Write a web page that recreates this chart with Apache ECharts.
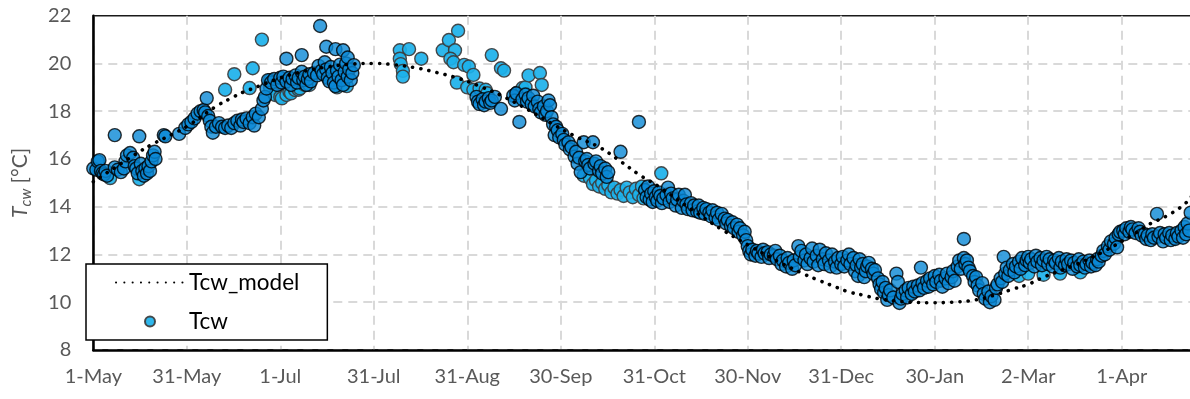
<!DOCTYPE html>
<html>
<head>
<meta charset="utf-8">
<title>Tcw</title>
<script src="https://cdn.jsdelivr.net/npm/echarts@6/dist/echarts.min.js"></script>
<style>
  html, body { margin: 0; padding: 0; background: #fff; }
  #chart { width: 1190px; height: 399px; }
</style>
</head>
<body>
<div id="chart"></div>
<script>
// x values are days counted from 1-May; ticks every 30.5 days
const tickLabels = ['1-May', '31-May', '1-Jul', '31-Jul', '31-Aug', '30-Sep',
  '31-Oct', '30-Nov', '31-Dec', '30-Jan', '2-Mar', '1-Apr'];

// Tcw_model curve, sampled [day, °C]
const modelDays = [0, 15, 19, 26, 31, 40, 45, 49, 54, 60, 68, 76, 84, 92, 98, 106, 112, 119, 126,
  134, 142, 150, 158, 165, 172, 178, 185, 195, 205, 215, 225, 231, 236, 241, 246, 251, 256, 262,
  267, 273, 280, 288, 294, 300, 305, 310, 320, 330, 340, 345, 350, 356, 358, 366];
const modelValues = [15.05, 16.3, 16.6, 17.05, 17.4, 18.2, 18.55, 18.8, 19.05, 19.35, 19.65, 19.85,
  19.97, 20.0, 19.95, 19.8, 19.62, 19.38, 19.05, 18.6, 18.05, 17.45, 16.9, 16.5, 15.9, 15.35, 14.8,
  13.9, 13.05, 12.3, 11.6, 11.23, 10.95, 10.7, 10.45, 10.3, 10.15, 10.05, 10.0, 9.98, 10.0, 10.1,
  10.3, 10.55, 10.75, 11.05, 11.55, 12.15, 12.9, 13.3, 13.6, 14.1, 14.4, 14.95];

// Tcw readings, [day, °C]
const tcwLight = [
  [5.5, 15.2], [15, 15.15], [43, 18.9], [46, 19.55], [51, 18.97], [52, 19.8], [55, 21.0],
  [57.6, 19.3], [57.7, 18.96], [59.3, 18.68], [61, 18.6], [61.5, 18.54], [63, 18.68], [64, 18.82],
  [64.5, 18.75], [65.8, 18.89], [67, 18.9], [67.4, 18.96], [69, 19.1], [70.5, 19.1],
  [79.5, 19.0], [82.7, 19.05],
  [100, 20.55], [103, 20.6], [100, 20.2], [100.3, 19.97], [101, 19.69], [101, 19.45], [107, 20.2],
  [114, 20.55], [116, 20.98], [118, 20.55], [119, 21.37], [116.5, 20.2], [117.5, 20.05],
  [121, 19.94], [122.5, 19.87], [124, 19.52], [118.6, 19.2], [122, 19.0], [124, 18.9], [126, 18.95],
  [128, 18.9], [128.5, 18.75], [130, 20.35], [133, 19.8], [134, 19.7],
  [138.3, 18.78], [138, 18.6], [140, 18.97], [141, 19.0], [142, 19.5], [145.7, 19.6], [146.3, 19.1],
  [160, 15.3], [162, 15.2], [163, 14.95], [164, 15.1], [165, 14.85], [166, 15.0], [167, 14.75],
  [168, 14.9], [169, 14.6], [170, 14.8], [171, 14.55], [172, 14.7], [173, 14.45], [174, 14.8],
  [175, 14.6], [176, 14.4], [177, 14.75], [178, 14.5], [179, 14.85], [179.5, 14.35], [185.3, 15.4],
  [302, 11.1], [305, 11.2], [310, 11.15], [315.4, 11.2], [322, 11.25]
];

const tcwDark = [
  [0, 15.6], [1, 15.55], [1.5, 15.9], [2, 15.95], [2.5, 15.5], [3, 15.4], [3.5, 15.35], [4, 15.5],
  [4.5, 15.3], [7, 17.0], [7, 15.65], [8, 15.55], [9, 15.45], [10, 15.6], [10.5, 15.9], [11, 16.15],
  [12, 16.25], [13, 16.05], [13.5, 15.7], [14, 15.6], [14.5, 15.4], [15, 16.95], [15.5, 15.8],
  [16, 15.5], [16.5, 15.3], [17, 15.6], [17.5, 15.4], [18, 15.7], [18.5, 15.5], [19, 15.9],
  [19.5, 16.15], [20, 16.3], [20.3, 16.0],
  [23, 17.0], [23.5, 16.95], [28, 17.05], [30, 17.3], [31, 17.45], [32, 17.55], [33, 17.7],
  [34, 17.9], [35, 18.0], [36, 18.05], [36.5, 17.95], [37, 18.55], [37.5, 17.8], [38, 17.6],
  [38.5, 17.35], [39, 17.1], [40, 17.35], [41, 17.5], [42, 17.35], [43, 17.3], [44, 17.4],
  [45, 17.3], [46, 17.5], [47, 17.6], [48, 17.4], [48.5, 17.65], [49, 17.55], [50, 17.7],
  [51, 17.5], [52, 17.75], [52.5, 17.4], [53, 17.9], [54, 17.75], [55, 18.1], [55.5, 18.45],
  [56, 18.6], [56.5, 18.95], [57, 19.3], [58, 19.2], [59, 19.35], [60, 19.1], [61, 19.4],
  [61.5, 19.2], [62, 19.45], [63, 20.2], [63, 19.25], [64, 19.4], [64.5, 19.1], [65, 19.35],
  [66, 19.5], [66.5, 19.2], [67, 19.4], [68, 20.35], [68, 19.65], [68.5, 19.3], [69, 19.45],
  [69.5, 19.1], [70, 19.35], [70.5, 19.55], [71, 19.25], [72, 19.6],
  [73, 19.5], [73.5, 19.9], [74, 21.57], [74.5, 19.7], [75, 19.55], [75.5, 20.05], [76, 20.7],
  [76, 19.75], [76.5, 19.4], [77, 19.25], [77.5, 19.85], [78, 19.6], [78.5, 19.2], [79, 20.6],
  [79, 19.05], [79.5, 19.7], [80, 19.45], [80.5, 19.95], [81, 19.3], [81.5, 20.55], [81.5, 19.1],
  [82, 19.65], [82.5, 20.0], [83, 20.25], [83, 19.45], [83.5, 19.75], [84, 19.3], [84.5, 19.6],
  [85, 19.93],
  [125, 18.6], [125.5, 18.4], [126, 18.3], [127, 18.5], [127.5, 18.25], [128, 18.4], [129, 18.55],
  [129.5, 18.35], [130, 18.45], [131, 18.6], [133, 18.1], [137, 18.65], [137.5, 18.45],
  [138, 18.75], [139, 17.55], [140, 18.5], [141, 18.7], [141.5, 18.4], [142, 18.55], [143, 18.3],
  [143.5, 18.65], [144, 18.2], [145, 18.4], [145.5, 18.1], [146, 17.95], [147, 18.2],
  [147.5, 17.85], [148, 18.0], [148.5, 18.45], [149, 18.25], [149.5, 17.75], [150, 17.45],
  [150.5, 17.0], [151, 17.35], [151.5, 17.2], [152, 16.9], [153, 17.05], [153.5, 16.8],
  [154, 16.6], [155, 16.7], [155.5, 16.4], [156, 16.5], [157, 16.1], [157.5, 16.3], [158, 15.8],
  [158.5, 16.05], [159, 15.45], [160, 16.7], [160.5, 15.9], [161, 16.0], [161.5, 15.75],
  [162, 15.6], [163, 16.7], [163.5, 15.8], [164, 15.9], [165, 15.5], [165.5, 15.7], [166, 15.4],
  [167, 15.6], [167.5, 15.25], [168, 15.45], [172, 16.3], [178, 17.55],
  [180, 14.7], [180.5, 14.4], [181, 14.85], [181.5, 14.3], [182, 14.55], [182.5, 14.2],
  [183, 14.65], [183.5, 14.4], [184, 14.25], [184.5, 14.6], [185, 14.45], [185.5, 14.15],
  [186, 14.35], [187, 14.5], [187.5, 14.8], [188, 14.2], [188.5, 14.55], [189, 14.35],
  [190, 14.05], [190.5, 14.3], [191, 14.5], [192, 13.95], [192.5, 14.25], [193, 14.5],
  [193.5, 14.1], [194, 13.9], [195, 14.15], [195.5, 13.85], [196, 14.05], [197, 13.8],
  [197.5, 14.05], [198, 13.75], [199, 13.95], [199.5, 13.7], [200, 13.9], [201, 13.75],
  [201.5, 13.6], [202, 13.85], [203, 13.55], [203.5, 13.75], [204, 13.45], [205, 13.7],
  [206, 13.5], [206.5, 13.3], [207, 13.45], [208, 13.2], [208.5, 13.35], [209, 13.1],
  [210, 13.25], [210.5, 12.95], [211, 13.1], [212, 12.8], [212.5, 12.95], [213, 12.6],
  [213.5, 12.35], [214, 12.15], [214.5, 12.0], [215, 12.2], [216, 11.95], [216.5, 12.15],
  [217, 12.05], [218, 11.9], [218.5, 12.2], [219, 12.05], [220, 12.1], [220.5, 11.85], [221, 12.0],
  [222, 11.95], [222.5, 12.15], [223, 11.8], [224, 11.95], [224.5, 11.6], [225, 11.75],
  [226, 11.5], [226.5, 11.85], [227, 11.65], [228, 11.4], [228.5, 11.75], [229, 11.55],
  [230, 12.35], [230.5, 11.9], [231, 12.15], [232, 11.75], [232.5, 12.0], [233, 11.6],
  [234, 11.85], [234.5, 12.25], [235, 11.7], [236, 11.95], [236.5, 11.55], [237, 12.2],
  [238, 11.8], [238.5, 11.6], [239, 12.05], [240, 11.75], [240.5, 11.5], [241, 12.0], [242, 11.7],
  [242.5, 11.45], [243, 11.85], [244, 11.6], [244.5, 11.9], [245, 11.5], [246, 11.75],
  [246.5, 12.0], [247, 11.6], [248, 11.85], [248.5, 11.3], [249, 11.55], [249.5, 11.1],
  [250, 11.8], [250.5, 11.45], [251, 11.6], [251.5, 11.05], [252, 11.3], [252.5, 11.5],
  [253, 11.65], [254, 11.4], [254.5, 11.2], [255, 11.35],
  [256, 11.0], [256.5, 10.75], [257, 10.55], [257.5, 10.85], [258, 10.4], [258.5, 10.6],
  [259, 10.1], [259.5, 10.3], [260, 10.5], [261, 10.2], [262, 11.2], [262.5, 10.85], [263, 9.97],
  [263.5, 10.15], [264, 10.35], [265, 10.5], [265.5, 10.2], [266, 10.6], [267, 10.35],
  [267.5, 10.65], [268, 10.45], [269, 10.7], [269.5, 10.5], [270, 11.45], [270.5, 10.8],
  [271, 10.6], [272, 10.9], [272.5, 10.65], [273, 11.0], [274, 10.75], [274.5, 11.1],
  [275, 10.85], [276, 11.15], [276.5, 10.9], [277, 10.65], [278, 11.0], [278.5, 11.2],
  [279, 10.8], [280, 11.05], [280.5, 11.3], [281, 10.9], [282, 11.5], [282.5, 11.75],
  [283, 11.4], [284, 12.65], [284, 11.85], [284.5, 11.6], [285, 11.75], [285.5, 11.45],
  [286, 11.3], [287, 11.1], [287.5, 10.85], [288, 11.05], [288.5, 10.7], [289, 10.5], [290, 10.8],
  [290.5, 10.35], [291, 10.15], [292, 10.45], [292.5, 10.0], [293, 10.25], [294, 10.1],
  [294.5, 10.6], [295, 10.75], [296, 11.0], [296.5, 10.85], [297, 11.9], [297.5, 11.2],
  [298, 11.45], [298.5, 11.1], [299, 11.35], [300, 11.6], [300.5, 11.25], [301, 11.5],
  [302, 11.7], [302.5, 11.4], [303, 11.85], [304, 11.55], [304.5, 11.75],
  [305, 11.9], [305.5, 11.65], [306, 11.8], [307, 11.5], [307.5, 11.95], [308, 11.7], [309, 11.85],
  [309.5, 11.55], [310, 11.75], [311, 11.9], [311.5, 11.6], [312, 11.8], [313, 11.5],
  [313.5, 11.75], [314, 11.65], [315, 11.85], [315.5, 11.45], [316, 11.7], [317, 11.55],
  [317.5, 11.8], [318, 11.6], [319, 11.75], [319.5, 11.4], [320, 11.65], [321, 11.5],
  [321.5, 11.8], [322, 11.55], [323, 11.7], [323.5, 11.45], [324, 11.6], [325, 11.75],
  [325.5, 11.5], [326, 11.65], [327, 11.55], [327.5, 11.8], [328, 11.7], [329, 11.95],
  [329.5, 12.15], [330, 12.0], [331, 12.35], [331.5, 12.2], [332, 12.55], [333, 12.45],
  [333.5, 12.7], [334, 12.3], [334.5, 12.85], [335, 12.95], [336, 13.0], [336.5, 12.85],
  [337, 13.1], [338, 12.95], [338.5, 13.15], [339, 13.05], [340, 12.9], [341, 13.1],
  [341.5, 12.95], [342, 12.8], [343, 12.85], [343.5, 12.65], [344, 12.8], [345, 12.6],
  [345.5, 12.85], [346, 12.7], [347, 13.7], [347.5, 12.75], [348, 12.9], [349, 12.55],
  [349.5, 12.85], [350, 12.7], [351, 12.9], [351.5, 12.6], [352, 12.8], [353, 12.65],
  [353.5, 12.9], [354, 12.75], [355, 13.0], [355.5, 12.7], [356, 13.15], [356.5, 12.85],
  [357, 13.3], [357.5, 13.0], [358, 13.75]
];

const FONT = 'Lato, "Open Sans", sans-serif';
const chart = echarts.init(document.getElementById('chart'), null, { renderer: 'canvas' });

chart.setOption({
  animation: false,
  backgroundColor: '#ffffff',
  textStyle: { fontFamily: FONT },
  grid: {
    left: 93.3, right: -25.2, top: 15.7, bottom: 49,
    containLabel: false, outerBoundsMode: 'none',
    show: true, borderColor: '#1a1a1a', borderWidth: 1.5, backgroundColor: 'transparent'
  },
  legend: {
    left: 86, top: 264, orient: 'vertical',
    data: [{ name: 'Tcw_model', itemStyle: { opacity: 0 } }, { name: 'Tcw' }],
    backgroundColor: '#ffffff', borderColor: '#000', borderWidth: 1.5,
    padding: [7, 28, 7, 29],
    itemWidth: 68, itemHeight: 10, itemGap: 16,
    textStyle: { fontSize: 22.5, color: '#000', fontFamily: FONT },
    selectedMode: false
  },
  xAxis: {
    type: 'value', min: 0, max: 366, interval: 30.5,
    axisLine: { lineStyle: { color: '#000', width: 2.5 } },
    axisTick: { show: false },
    splitLine: { lineStyle: { color: '#d9d9d9', width: 2, type: [9, 6] } },
    axisLabel: {
      fontSize: 20, color: '#595959', margin: 17, fontFamily: FONT,
      showMaxLabel: false,
      formatter: v => tickLabels[Math.round(v / 30.5)] || ''
    }
  },
  yAxis: {
    type: 'value', min: 8, max: 22, interval: 2,
    axisLine: { show: true, lineStyle: { color: '#000', width: 2.5 } },
    axisTick: { show: false },
    splitLine: { showMaxLine: false, lineStyle: { color: '#d9d9d9', width: 2, type: [9, 6] } },
    axisLabel: { fontSize: 20, color: '#595959', margin: 22, fontFamily: FONT },
    name: '{t|T}{s|cw}{n| [°C]}',
    nameLocation: 'middle', nameRotate: 90, nameGap: 60,
    nameTextStyle: {
      color: '#595959', fontFamily: FONT, fontSize: 21,
      rich: {
        t: { fontSize: 21, fontStyle: 'italic', color: '#595959', lineHeight: 26, fontFamily: FONT },
        s: { fontSize: 15, fontStyle: 'italic', color: '#595959', lineHeight: 15,
             verticalAlign: 'bottom', fontFamily: FONT },
        n: { fontSize: 21, color: '#595959', lineHeight: 26, fontFamily: FONT }
      }
    }
  },
  series: [
    {
      name: 'Tcw', type: 'scatter', data: tcwLight, symbol: 'circle', symbolSize: 13,
      itemStyle: { color: '#1cb1ea', borderColor: '#3c3c3c', borderWidth: 1.4, opacity: 0.92 },
      z: 2
    },
    {
      name: 'Tcw', type: 'scatter', data: tcwDark, symbol: 'circle', symbolSize: 13,
      itemStyle: { color: '#0a88d6', borderColor: '#000', borderWidth: 1.4 },
      z: 3
    },
    {
      name: 'Tcw_model', type: 'line', smooth: 0.4, showSymbol: false, symbol: 'none',
      data: modelDays.map((d, i) => [d, modelValues[i]]),
      itemStyle: { color: '#000' },
      lineStyle: { color: '#000', width: 3.6, type: [0.1, 8.2], cap: 'round' },
      z: 4
    }
  ]
});
</script>
</body>
</html>
